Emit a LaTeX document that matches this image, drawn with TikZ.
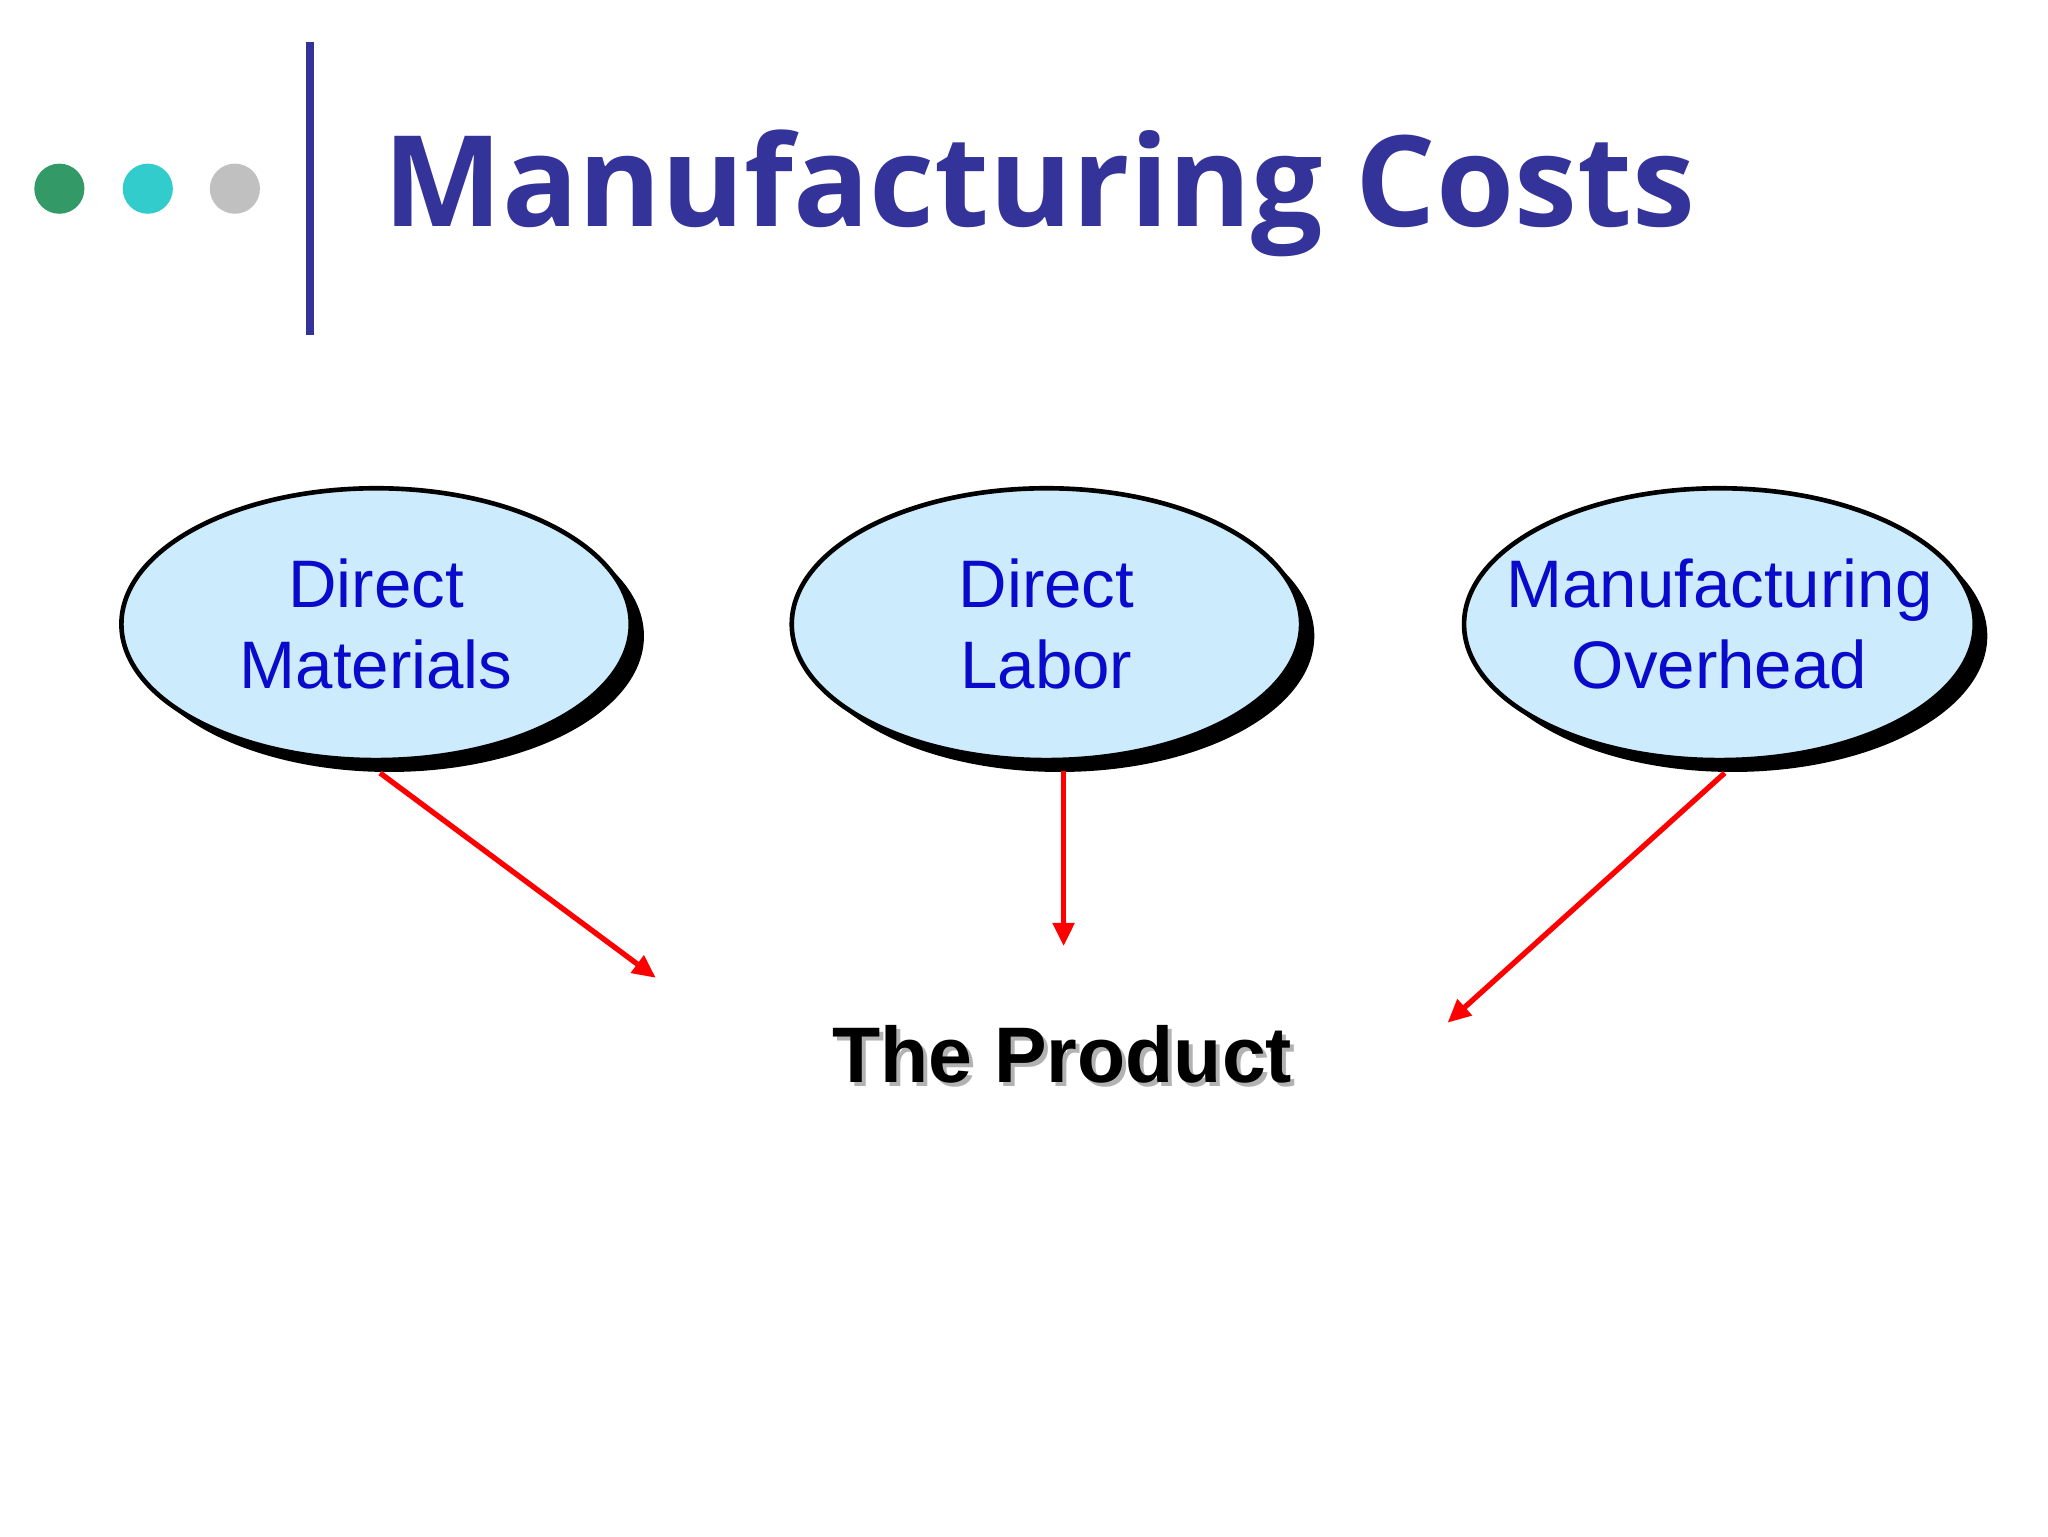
\documentclass[tikz,border=0pt]{standalone}
\usepackage{fontspec}
\setmainfont{Liberation Sans}
\newfontfamily\titlefont{Open Sans}
\usetikzlibrary{shapes.geometric,arrows.meta}
\definecolor{navy}{HTML}{333399}
\definecolor{ellfill}{HTML}{CCEBFC}
\definecolor{txtblue}{HTML}{0A0ACC}
\tikzset{
  cost/.style={ellipse, draw=black, line width=2pt, fill=ellfill, minimum width=386*0.02cm, minimum height=206*0.02cm, inner sep=-14pt, align=center, font=\fontsize{29}{35}\selectfont, text=txtblue},
  shadowell/.style={ellipse, fill=black, minimum width=386*0.02cm, minimum height=206*0.02cm},
  flow/.style={draw=red, line width=2.3pt, -{Triangle[length=10pt,width=9pt]}},
  dot/.style={circle, minimum size=38*0.02cm, inner sep=0pt}
}
\begin{document}
\begin{tikzpicture}[x=0.02cm,y=-0.02cm]
\useasboundingbox (0,0) rectangle (1552,1164);
\node[dot, fill={rgb,255:red,51;green,153;blue,102}] (d1) at (45,143) {};
\node[dot, fill={rgb,255:red,51;green,204;blue,204}] (d2) at (112,143) {};
\node[dot, fill={rgb,255:red,192;green,192;blue,192}] (d3) at (178,143) {};
\draw[navy, line width=3.4pt] (235,32) -- (235,254);
\node[anchor=base west, inner sep=0pt, text=navy, font=\titlefont\bfseries\fontsize{54.5}{60}\selectfont] (title) at (290,172) {Manufacturing Costs};
\foreach \x in {285,793,1303}{\node[shadowell] at (\x+10,482) {};}
\node[cost] (dm) at (285,473) {Direct\\Materials};
\node[cost] (dl) at (793,473) {Direct\\Labor};
\node[cost] (mo) at (1303,473) {Manufacturing\\Overhead};
\node[font=\bfseries\fontsize{34}{40}\selectfont, text=gray!60] at (808,802) {The Product};
\node[font=\bfseries\fontsize{34}{40}\selectfont] (prod) at (805,799) {The Product};
\coordinate (e1) at (497,741);
\coordinate (e2) at (806,717);
\coordinate (e3) at (1097,775);
\draw[flow] (dm.south) ++(3,8) -- (e1);
\draw[flow] (806,584) -- (e2);
\draw[flow] (mo.south) ++(4,8) -- (e3);
\end{tikzpicture}
\end{document}
